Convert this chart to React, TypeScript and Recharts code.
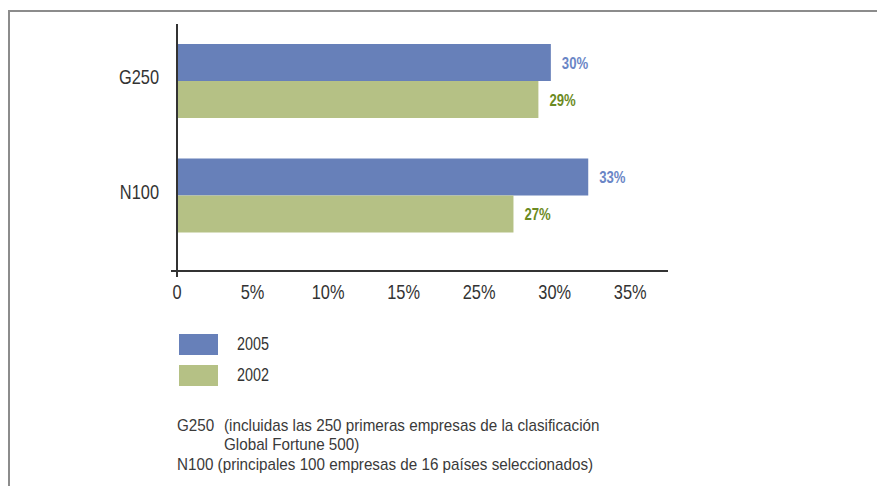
import { BarChart, Bar, XAxis, YAxis, LabelList, Legend } from 'recharts';

const CATEGORIES = ['G250', 'N100'];
const VALUES_2005 = [30, 33];
const VALUES_2002 = [29, 27];
const SERIES_NAMES = ['2005', '2002'];
const TICK_LABELS = ['0', '5%', '10%', '15%', '25%', '30%', '35%'];
const TICK_INDEX = TICK_LABELS.map((_, i) => i);

// Arial Narrow look: Liberation Sans squeezed horizontally
const FONT = '"Liberation Sans", Arial, sans-serif';
const SQUEEZE = 0.82;
const BLUE = '#6780b9';
const GREEN = '#b5c185';
const BLUE_TEXT = '#6a86c6';
const GREEN_TEXT = '#6b8a22';
const INK = '#333333';

const data = CATEGORIES.map((name, i) => ({
  name,
  y2005: VALUES_2005[i],
  y2002: VALUES_2002[i],
}));

const NarrowText = ({ x, y, anchor = 'start', size, weight = 'normal', fill = INK, children }: any) => (
  <text
    transform={`translate(${x},${y}) scale(${SQUEEZE},1)`}
    textAnchor={anchor}
    fontFamily={FONT}
    fontSize={size}
    fontWeight={weight}
    fill={fill}
  >
    {children}
  </text>
);

const XTick = (props: any) => {
  const { x, y, payload, index } = props;
  const axisY = y - 12;
  return (
    <g>
      {index === 0 && (
        <>
          <line x1={x} y1={axisY} x2={x} y2={axisY + 6} stroke={INK} strokeWidth={2} />
          <line x1={x - 6} y1={axisY} x2={x} y2={axisY} stroke={INK} strokeWidth={2} />
        </>
      )}
      <NarrowText x={x} y={y + 16} anchor="middle" size={20}>
        {TICK_LABELS[payload.value]}
      </NarrowText>
    </g>
  );
};

const YTick = (props: any) => {
  const { x, y, payload } = props;
  return (
    <NarrowText x={x} y={y + 3} anchor="end" size={20}>
      {payload.value}
    </NarrowText>
  );
};

const valueLabel = (color: string) => (props: any) => {
  const { x, y, width, height, value } = props;
  return (
    <NarrowText x={x + width + 11} y={y + height / 2 + 6} size={16} weight="bold" fill={color}>
      {`${value}%`}
    </NarrowText>
  );
};

const renderLegend = (props: any) => {
  const items = [...(props.payload || [])].sort(
    (a: any, b: any) => SERIES_NAMES.indexOf(a.value) - SERIES_NAMES.indexOf(b.value)
  );
  return (
    <div style={{ fontFamily: FONT }}>
      {items.map((entry: any) => (
        <div key={entry.value} style={{ display: 'flex', alignItems: 'center', height: 21, marginBottom: 10 }}>
          <div style={{ width: 39, height: 21, background: entry.color }} />
          <span
            style={{
              marginLeft: 19,
              fontSize: 17.5,
              color: INK,
              display: 'inline-block',
              transform: `scaleX(${SQUEEZE})`,
              transformOrigin: 'left center',
            }}
          >
            {entry.value}
          </span>
        </div>
      ))}
    </div>
  );
};

const noteStyle = {
  position: 'absolute' as const,
  fontFamily: FONT,
  fontSize: 17,
  lineHeight: '19px',
  color: '#3a3a3a',
  whiteSpace: 'nowrap' as const,
  transform: 'scaleX(0.895)',
  transformOrigin: 'left top',
};

export default function App() {
  return (
    <div style={{ position: 'absolute', left: 0, top: 0, width: 877, height: 486, background: '#fff', overflow: 'hidden' }}>
      <div
        style={{
          position: 'absolute',
          left: 8,
          top: 10,
          width: 869,
          height: 476,
          borderTop: '2px solid #8c8c8c',
          borderLeft: '2px solid #8c8c8c',
          boxSizing: 'border-box',
        }}
      />
      <BarChart
        layout="vertical"
        width={877}
        height={486}
        data={data}
        margin={{ top: 24, right: 209, bottom: 185, left: 0 }}
        barGap={0}
        barSize={37}
      >
        <XAxis xAxisId="value" type="number" domain={[0, 39.4]} hide allowDataOverflow />
        <XAxis
          xAxisId="ticks"
          type="number"
          domain={[0, 6.5]}
          ticks={TICK_INDEX}
          allowDataOverflow
          height={30}
          tick={<XTick />}
          tickLine={false}
          tickSize={0}
          tickMargin={12}
          interval={0}
          axisLine={{ stroke: INK, strokeWidth: 2 }}
        />
        <YAxis
          type="category"
          dataKey="name"
          width={177}
          padding={{ top: 0, bottom: 18 }}
          tick={<YTick />}
          tickLine={false}
          tickSize={0}
          tickMargin={18}
          axisLine={{ stroke: INK, strokeWidth: 2 }}
        />
        <Legend
          layout="vertical"
          align="center"
          verticalAlign="middle"
          content={renderLegend}
          wrapperStyle={{ left: 179, top: 334, width: 200 }}
        />
        <Bar xAxisId="value" dataKey="y2005" name={SERIES_NAMES[0]} fill={BLUE} isAnimationActive={false}>
          <LabelList dataKey="y2005" content={valueLabel(BLUE_TEXT)} />
        </Bar>
        <Bar xAxisId="value" dataKey="y2002" name={SERIES_NAMES[1]} fill={GREEN} isAnimationActive={false}>
          <LabelList dataKey="y2002" content={valueLabel(GREEN_TEXT)} />
        </Bar>
      </BarChart>
      <div style={{ ...noteStyle, left: 177, top: 416 }}>G250</div>
      <div style={{ ...noteStyle, left: 224, top: 416 }}>
        (incluidas las 250 primeras empresas de la clasificación
        <br />
        Global Fortune 500)
      </div>
      <div style={{ ...noteStyle, left: 177, top: 455 }}>N100 (principales 100 empresas de 16 países seleccionados)</div>
    </div>
  );
}
